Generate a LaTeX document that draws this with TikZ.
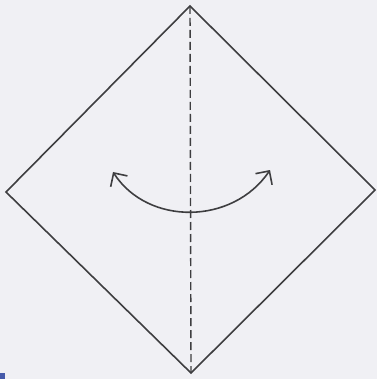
\documentclass[tikz,border=0pt]{standalone}
\usetikzlibrary{arrows.meta}
\definecolor{paper}{RGB}{240,240,244}
\definecolor{ink}{RGB}{62,62,64}
\definecolor{speck}{RGB}{70,90,170}
\begin{document}
\begin{tikzpicture}[x=1pt, y=-1pt,
	edge/.style={ink, line width=1.6pt, line join=miter},
	fold/.style={ink, line width=1.4pt, dash pattern=on 8pt off 4pt},
	turn/.style={ink, line width=1.6pt, {Straight Barb[length=10pt, width=20pt]}-{Straight Barb[length=10pt, width=20pt]}}]
	\fill[paper] (0,0) rectangle (377,379);
	\useasboundingbox (0,0) rectangle (377,379);
	\fill[speck] (0,373) rectangle (5,379);
	\coordinate (top) at (190,6);
	\coordinate (right) at (375,190);
	\coordinate (bottom) at (191,373);
	\coordinate (left) at (6,192);
	\draw[edge] (top) -- (right) -- (bottom) -- (left) -- cycle;
	\draw[fold] (top) -- (bottom);
	\coordinate (turnL) at (113,172);
	\coordinate (turnR) at (270,170);
	\draw[turn] (turnL) .. controls (148,226) and (233,225) .. (turnR);
\end{tikzpicture}
\end{document}
